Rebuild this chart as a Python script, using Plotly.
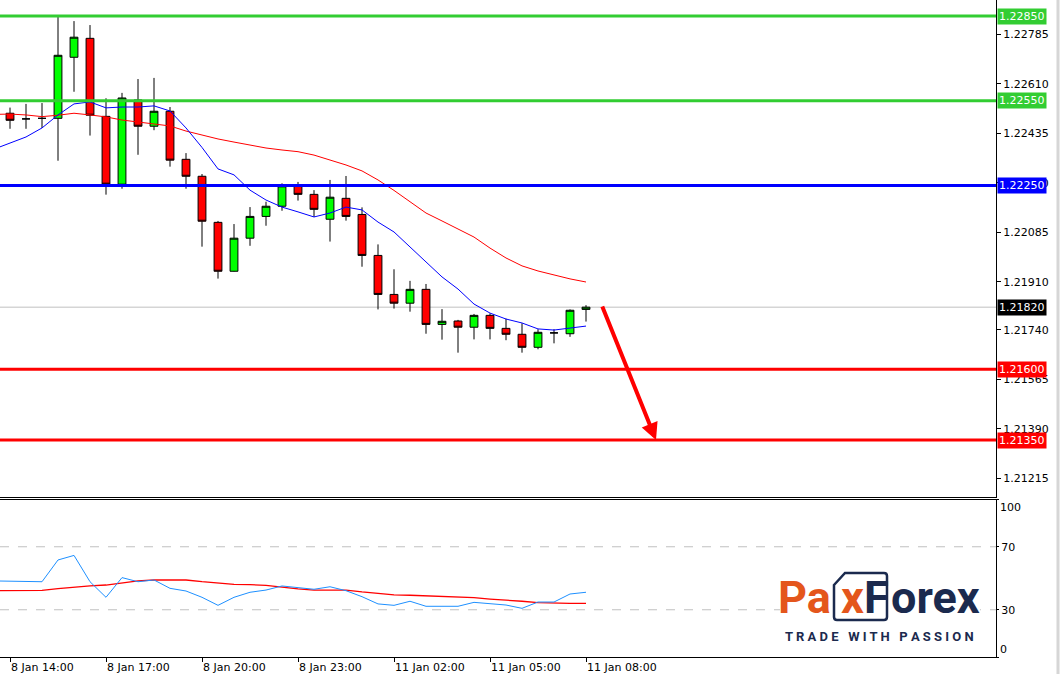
import plotly.graph_objects as go

# ---------------- data ----------------
times = []
for h in range(14, 24):
    times += [f"8 Jan {h:02d}:00", f"8 Jan {h:02d}:30"]
for h in range(0, 8):
    times += [f"11 Jan {h:02d}:00", f"11 Jan {h:02d}:30"]
times += ["11 Jan 08:00"]

opens = [1.22506, 1.22486, 1.22488, 1.22488, 1.22704, 1.22771, 1.22495, 1.22255, 1.22553, 1.22460,
         1.22513, 1.22343, 1.22283, 1.22120, 1.21947, 1.22064, 1.22141, 1.22177, 1.22249, 1.22219,
         1.22131, 1.22205, 1.22148, 1.22003, 1.21865, 1.21834, 1.21883, 1.21759, 1.21771, 1.21749,
         1.21791, 1.21745, 1.21724, 1.21678, 1.21729, 1.21726, 1.21812]
highs = [1.22526, 1.22539, 1.22542, 1.22848, 1.22832, 1.22818, 1.22559, 1.22578, 1.22627, 1.22631,
         1.22528, 1.22365, 1.22291, 1.22125, 1.22114, 1.22174, 1.22193, 1.22258, 1.22263, 1.22234,
         1.22270, 1.22284, 1.22173, 1.22042, 1.21954, 1.21913, 1.21902, 1.21813, 1.21775, 1.21796,
         1.21798, 1.21779, 1.21763, 1.21742, 1.21742, 1.21812, 1.21827]
lows = [1.22451, 1.22451, 1.22454, 1.22338, 1.22582, 1.22427, 1.22218, 1.22239, 1.22359, 1.22446,
        1.22317, 1.22239, 1.22034, 1.21921, 1.21946, 1.22037, 1.22108, 1.22161, 1.22197, 1.22139,
        1.22052, 1.22126, 1.21963, 1.21812, 1.21815, 1.21804, 1.21726, 1.21705, 1.21659, 1.21706,
        1.21706, 1.21703, 1.21659, 1.21671, 1.21692, 1.21715, 1.21769]
closes = [1.22481, 1.22486, 1.22488, 1.22711, 1.22775, 1.22499, 1.22255, 1.22560, 1.22460, 1.22513,
          1.22340, 1.22283, 1.22124, 1.21947, 1.22064, 1.22141, 1.22177, 1.22249, 1.22219, 1.22166,
          1.22209, 1.22141, 1.22003, 1.21865, 1.21834, 1.21883, 1.21759, 1.21770, 1.21749, 1.21791,
          1.21745, 1.21724, 1.21678, 1.21731, 1.21729, 1.21809, 1.21820]

# moving averages (first value belongs to the bar before the first visible candle)
ma_fast = [1.22379, 1.22401, 1.22422, 1.22454, 1.22500, 1.22539, 1.22546, 1.22525, 1.22528, 1.22528,
           1.22532, 1.22514, 1.22454, 1.22385, 1.22309, 1.22288, 1.22234, 1.22199, 1.22174, 1.22157,
           1.22139, 1.22153, 1.22174, 1.22164, 1.22121, 1.22086, 1.22033, 1.21983, 1.21927, 1.21884,
           1.21831, 1.21799, 1.21778, 1.21764, 1.21743, 1.21739, 1.21746, 1.21753]
ma_slow = [1.22502, 1.22503, 1.22500, 1.22494, 1.22499, 1.22506, 1.22500, 1.22493, 1.22482, 1.22476,
           1.22468, 1.22461, 1.22443, 1.22429, 1.22415, 1.22404, 1.22394, 1.22383, 1.22376, 1.22370,
           1.22358, 1.22341, 1.22323, 1.22302, 1.22270, 1.22233, 1.22194, 1.22153, 1.22125, 1.22096,
           1.22068, 1.22029, 1.21994, 1.21966, 1.21948, 1.21934, 1.21920, 1.21909]

# oscillator panel
osc_main = [48.3, 48.0, 47.8, 47.8, 61.6, 64.5, 47.8, 37.9, 50.4, 47.8,
            48.9, 43.6, 41.9, 37.9, 32.8, 37.9, 41.1, 42.5, 45.1, 44.0,
            43.0, 44.6, 42.1, 38.3, 33.7, 32.8, 35.4, 32.2, 32.2, 32.2,
            34.7, 33.7, 33.0, 30.9, 34.9, 34.9, 40.0, 41.1]
osc_signal = [42.1, 42.1, 42.1, 42.3, 43.4, 44.4, 45.1, 45.7, 47.2, 48.3,
              48.9, 48.9, 48.9, 47.8, 46.8, 46.1, 45.9, 45.5, 44.4, 43.2,
              42.5, 42.5, 42.5, 41.3, 40.2, 39.4, 39.2, 38.9, 38.7, 38.3,
              37.7, 36.8, 36.2, 35.4, 34.5, 34.1, 34.1, 34.1]
osc_levels = [70, 30]

# horizontal levels
levels = [1.22850, 1.22550, 1.22250, 1.21600, 1.21350]
level_colors = ["#32CD32", "#32CD32", "#0000FF", "#FF0000", "#FF0000"]
current_price = 1.21820

price_ticks = [1.22785, 1.22610, 1.22435, 1.22260, 1.22085, 1.21910, 1.21740, 1.21565, 1.21390, 1.21215]
osc_ticks = [100, 70, 30, 0]
osc_edge_ticks = [100, 0]
time_tick_labels = ["8 Jan 14:00", "8 Jan 17:00", "8 Jan 20:00", "8 Jan 23:00",
                    "11 Jan 02:00", "11 Jan 05:00", "11 Jan 08:00"]

arrow_start = (36.98, 1.21828)
arrow_end = (40.375, 1.21350)

# ---------------- figure ----------------
x = list(range(len(times)))
ma_x = list(range(-1, len(times)))
time_tick_vals = [times.index(t) for t in time_tick_labels]
xr = [-0.625, 61.625]

FONT = "DejaVu Sans"
fig = go.Figure()

fig.add_trace(go.Candlestick(
    x=x, open=opens, high=highs, low=lows, close=closes,
    increasing=dict(line=dict(color="black", width=1), fillcolor="#00FF00"),
    decreasing=dict(line=dict(color="black", width=1), fillcolor="#FF0000"),
    whiskerwidth=0, hoverinfo="skip", xaxis="x", yaxis="y"))
fig.add_trace(go.Scatter(x=ma_x, y=ma_slow, mode="lines", line=dict(color="#FF0000", width=1),
                         xaxis="x", yaxis="y", hoverinfo="skip"))
fig.add_trace(go.Scatter(x=ma_x, y=ma_fast, mode="lines", line=dict(color="#0000FF", width=1),
                         xaxis="x", yaxis="y", hoverinfo="skip"))
fig.add_trace(go.Scatter(x=ma_x, y=osc_signal, mode="lines", line=dict(color="#FF0000", width=1.3),
                         xaxis="x2", yaxis="y2", hoverinfo="skip"))
fig.add_trace(go.Scatter(x=ma_x, y=osc_main, mode="lines", line=dict(color="#1E90FF", width=1),
                         xaxis="x2", yaxis="y2", hoverinfo="skip"))

shapes = []
shapes.append(dict(type="line", xref="paper", yref="y", x0=0, x1=1, y0=current_price, y1=current_price,
                   line=dict(color="#C0C0C0", width=1), layer="below"))
for lv, c in zip(levels, level_colors):
    shapes.append(dict(type="line", xref="paper", yref="y", x0=0, x1=1, y0=lv, y1=lv,
                       line=dict(color=c, width=3), layer="above"))
for lv in osc_levels:
    shapes.append(dict(type="line", xref="paper", yref="y2", x0=0, x1=1, y0=lv, y1=lv,
                       line=dict(color="#C0C0C0", width=1, dash="dash"), layer="below"))

# logo backdrop and frame
W, H = 996.0, 657.0
def px(xp):
    return xp / W
def py(yp):
    return (H - yp) / H

shapes.append(dict(type="rect", xref="paper", yref="paper", x0=px(780), x1=px(980), y0=py(646), y1=py(568),
                   fillcolor="white", line=dict(width=0), layer="above"))
box_path = (f"M {px(834)},{py(585)} L {px(845)},{py(573)} L {px(884)},{py(573)} "
            f"Q {px(887)},{py(573)} {px(887)},{py(576)} L {px(887)},{py(617)} "
            f"Q {px(887)},{py(620)} {px(884)},{py(620)} L {px(837)},{py(620)} "
            f"Q {px(834)},{py(620)} {px(834)},{py(617)} Z")
shapes.append(dict(type="path", xref="paper", yref="paper", path=box_path,
                   line=dict(color="#1B2A4E", width=2.5), layer="above"))
# window border strip
shapes.append(dict(type="line", xref="paper", yref="paper", x0=1058 / W, x1=1058 / W, y0=-0.03, y1=1.0,
                   line=dict(color="#D6D6D6", width=3)))

annotations = []
label_colors = level_colors
for lv, c in zip(levels, label_colors):
    annotations.append(dict(xref="paper", yref="y", x=1, y=lv, xanchor="left", yanchor="middle", xshift=1,
                            text=f"{lv:.5f}", showarrow=False, bgcolor=c, borderpad=1,
                            font=dict(family=FONT, size=11, color="white")))
annotations.append(dict(xref="paper", yref="y", x=1, y=current_price, xanchor="left", yanchor="middle", xshift=1,
                        text=f"{current_price:.5f}", showarrow=False, bgcolor="black", borderpad=1,
                        font=dict(family=FONT, size=11, color="white")))

# edge labels of the oscillator scale sit inside the panel (MT4 style)
for v in osc_edge_ticks:
    annotations.append(dict(xref="paper", yref="y2", x=1, y=v, xanchor="left", yanchor="middle", xshift=2,
                            yshift=-8 if v == max(osc_ticks) else 8, text=str(v), showarrow=False,
                            font=dict(family=FONT, size=11, color="black")))

annotations.append(dict(xref="x", yref="y", x=arrow_end[0], y=arrow_end[1],
                        axref="x", ayref="y", ax=arrow_start[0], ay=arrow_start[1],
                        showarrow=True, arrowhead=2, arrowsize=0.85, arrowwidth=4, arrowcolor="#FF0000",
                        text=""))

ORANGE = "#E4561C"
NAVY = "#1B2A4E"
LF = "Roboto"
annotations += [
    dict(xref="paper", yref="paper", x=px(833), y=py(597), xanchor="right", yanchor="middle",
         text="Pa", showarrow=False, font=dict(family=LF, size=45, color=ORANGE, weight="bold")),
    dict(xref="paper", yref="paper", x=px(852), y=py(597), xanchor="center", yanchor="middle",
         text="x", showarrow=False, font=dict(family=LF, size=45, color=ORANGE, weight="bold")),
    dict(xref="paper", yref="paper", x=px(876), y=py(597), xanchor="center", yanchor="middle",
         text="F", showarrow=False, font=dict(family=LF, size=45, color=NAVY, weight="bold")),
    dict(xref="paper", yref="paper", x=px(889), y=py(597), xanchor="left", yanchor="middle",
         text="orex", showarrow=False, font=dict(family=LF, size=45, color=NAVY, weight="bold")),
    dict(xref="paper", yref="paper", x=px(879), y=py(636), xanchor="center", yanchor="middle",
         text="T R A D E &nbsp; W I T H &nbsp; P A S S I O N", showarrow=False,
         font=dict(family=LF, size=13, color=NAVY, weight="bold")),
]

tickfont = dict(family=FONT, size=11, color="black")
osc_ticktext = ["" if v in osc_edge_ticks else str(v) for v in osc_ticks]
fig.update_layout(
    width=1060, height=674,
    margin=dict(l=0, r=64, t=0, b=17, autoexpand=False),
    paper_bgcolor="white", plot_bgcolor="white",
    showlegend=False,
    boxgap=0.3,
    xaxis=dict(domain=[0, 1], range=xr, anchor="y", showline=True, linecolor="black", linewidth=1,
               showticklabels=False, ticks="", showgrid=False, zeroline=False, automargin=False,
               rangeslider=dict(visible=False), fixedrange=True),
    yaxis=dict(domain=[(H - 497) / H, 1], range=[1.211484, 1.229066], side="right", anchor="x",
               tickvals=price_ticks, tickformat=".5f", ticks="outside", ticklen=4, tickcolor="black",
               showline=True, linecolor="black", linewidth=1, showgrid=False, zeroline=False,
               automargin=False, tickfont=tickfont),
    xaxis2=dict(domain=[0, 1], range=xr, anchor="y2", tickvals=time_tick_vals, ticktext=time_tick_labels,
                ticks="outside", ticklen=4, tickcolor="black", ticklabelposition="outside right",
                showline=True, mirror=True, linecolor="black", linewidth=1, showgrid=False, zeroline=False,
                automargin=False, tickfont=tickfont),
    yaxis2=dict(domain=[0, (H - 499.5) / H], range=[0, 100], side="right", anchor="x2",
                tickvals=osc_ticks, ticktext=osc_ticktext, ticks="outside", ticklen=2, tickcolor="black",
                showline=True, linecolor="black", linewidth=1, showgrid=False, zeroline=False,
                automargin=False, tickfont=tickfont),
    shapes=shapes,
    annotations=annotations,
)

fig.write_html("out.html", config={"displayModeBar": False},
               post_script="document.body.style.margin='0';document.body.style.padding='0';")
